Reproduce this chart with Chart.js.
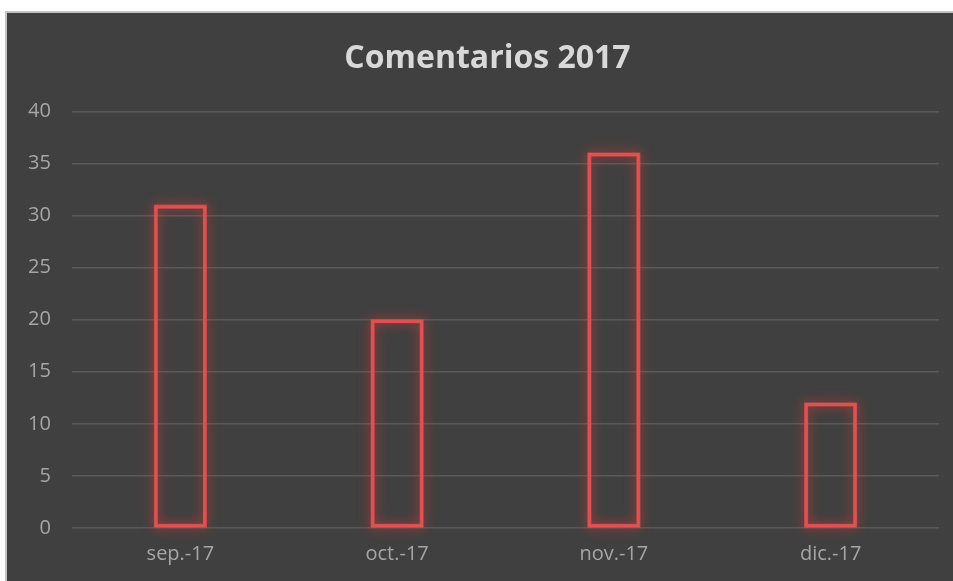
<!DOCTYPE html>
<html>
<head>
<meta charset="utf-8">
<script src="https://cdn.jsdelivr.net/npm/chart.js@4"></script>
<style>
  html, body { margin: 0; padding: 0; background: #ffffff; overflow: hidden; }
  #frame {
    position: absolute; left: 5px; top: 11px;
    width: 946px; height: 568px;
    border-left: 2px solid #c4c4c4; border-top: 2px solid #c4c4c4;
    background: #404040;
  }
  #chart { display: block; }
</style>
</head>
<body>
<div id="frame"><canvas id="chart" width="946" height="568"></canvas></div>
<script>
// Chart data
const months = ['sep.-17', 'oct.-17', 'nov.-17', 'dic.-17'];
const comments = [31, 20, 36, 12];
const yTicks = [0, 5, 10, 15, 20, 25, 30, 35, 40];

const barRed = '#dc5352';

// soft red glow around each bar, drawn under the crisp border
const glowPlugin = {
    id: 'glow',
    beforeDatasetsDraw(chart) {
        const ctx = chart.ctx;
        const bars = chart.getDatasetMeta(0).data;
        ctx.save();
        ctx.shadowColor = 'rgba(235, 55, 55, 1)';
        ctx.shadowBlur = 12;
        ctx.strokeStyle = 'rgba(217, 80, 79, 0.8)';
        ctx.lineWidth = 4;
        bars.forEach(bar => {
            const p = bar.getProps(['x', 'y', 'base', 'width'], true);
            const left = p.x - p.width / 2 + 1.5;
            const top = Math.min(p.y, p.base) + 1.5;
            ctx.strokeRect(left, top, p.width - 3, Math.abs(p.base - p.y) - 3);
        });
        ctx.restore();
    }
};

const ctx = document.getElementById('chart').getContext('2d');
new Chart(ctx, {
    type: 'bar',
    data: {
        labels: months,
        datasets: [{
            label: 'Comentarios',
            data: comments,
            backgroundColor: 'rgba(0,0,0,0)',
            borderColor: barRed,
            borderWidth: 3,
            borderSkipped: false,
            barPercentage: 0.24,
            categoryPercentage: 1
        }]
    },
    options: {
        responsive: false,
        animation: false,
        layout: { padding: { left: 29, right: 14, top: 0, bottom: 1 } },
        plugins: {
            legend: { display: false },
            tooltip: { enabled: false },
            title: {
                display: true,
                text: 'Comentarios 2017',
                color: '#d9d9d9',
                font: { family: 'Open Sans', size: 32, weight: 'bold' },
                padding: { top: 27, bottom: 33 }
            }
        },
        scales: {
            x: {
                grid: { display: false, drawTicks: false },
                border: { display: false },
                ticks: {
                    color: '#a6a6a6',
                    padding: 14,
                    font: { family: 'Open Sans', size: 20 }
                }
            },
            y: {
                min: 0,
                max: 40,
                afterBuildTicks: axis => { axis.ticks = yTicks.map(v => ({ value: v })); },
                afterFit: axis => { axis.width = 36; },
                grid: { color: '#5a5a5a', lineWidth: 1.5, drawTicks: false },
                border: { display: false },
                ticks: {
                    color: '#a6a6a6',
                    mirror: true,
                    crossAlign: 'far',
                    padding: -44,
                    font: { family: 'Open Sans', size: 20 }
                }
            }
        }
    },
    plugins: [glowPlugin]
});
</script>
</body>
</html>
